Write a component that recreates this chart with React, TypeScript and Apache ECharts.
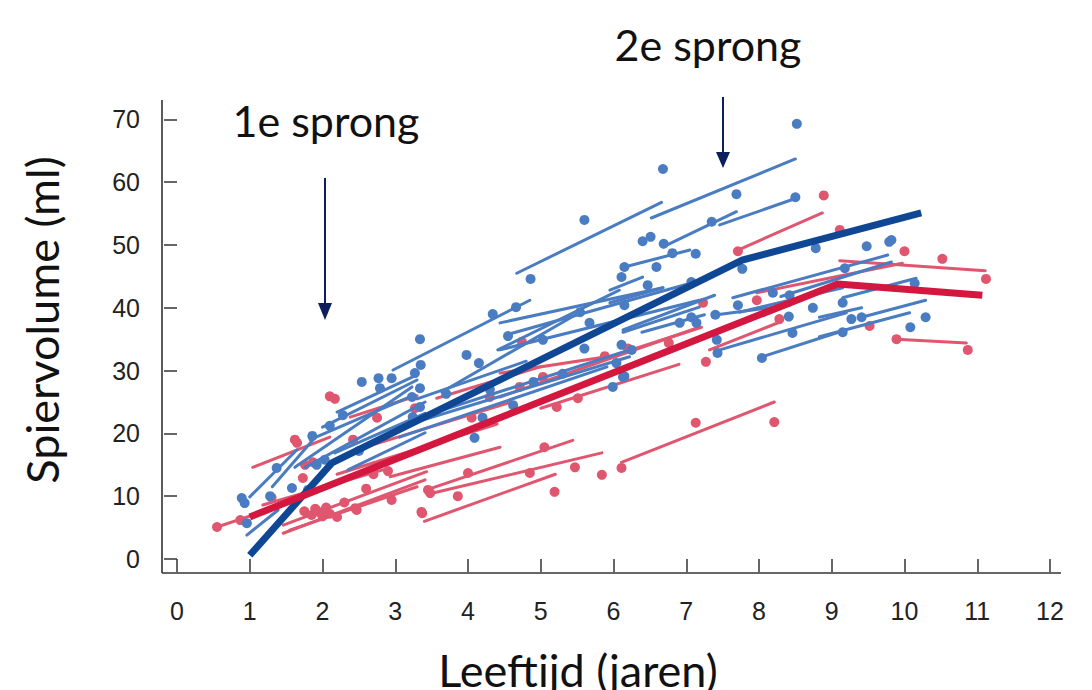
import React, { useEffect, useRef } from "react";
import * as echarts from "echarts";

// ---- axis ticks ----
const xTickValues = [0, 1, 2, 3, 4, 5, 6, 7, 8, 9, 10, 11, 12];
const yTickValues = [0, 10, 20, 30, 40, 50, 60, 70];

// ---- group mean curves (thick lines) ----
const blueMean: number[][] = [[1.0, 0.6], [2.13, 15.3], [7.77, 47.6], [10.23, 55.1]];
const redMean: number[][] = [[1.0, 6.7], [9.08, 43.8], [11.07, 42.0]];

// ---- individual fitted lines: [x1, y1, x2, y2] ----
const blueSegments: number[][] = [
  [6.52, 54.3, 8.5, 63.7],
  [4.67, 45.5, 6.66, 56.8],
  [7.46, 53.2, 8.5, 57.4],
  [6.68, 49.7, 7.69, 55.3],
  [6.15, 46.5, 7.05, 49.2],
  [5.95, 42.8, 6.4, 44.9],
  [5.95, 40.8, 6.68, 43.2],
  [2.97, 30.1, 4.85, 41.2],
  [4.41, 33.3, 6.08, 42.8],
  [4.44, 37.6, 6.68, 43.2],
  [4.53, 35.7, 7.12, 44.1],
  [4.44, 33.3, 7.18, 41.2],
  [6.13, 36.1, 7.18, 40.1],
  [6.13, 36.5, 7.39, 42.0],
  [6.39, 36.1, 7.25, 38.9],
  [7.42, 38.9, 8.42, 40.4],
  [7.64, 41.6, 9.77, 48.4],
  [7.73, 39.3, 9.15, 43.2],
  [8.3, 41.8, 9.82, 47.3],
  [7.46, 33.3, 9.2, 39.2],
  [8.04, 32.2, 9.2, 36.5],
  [9.15, 41.6, 10.16, 44.7],
  [8.83, 38.5, 9.41, 40.0],
  [9.41, 38.5, 10.29, 41.2],
  [8.83, 35.4, 10.07, 39.2],
  [3.64, 26.6, 5.54, 39.3],
  [2.0, 21.0, 3.3, 28.5],
  [2.2, 23.4, 3.24, 29.0],
  [1.83, 19.0, 3.2, 25.8],
  [1.62, 14.6, 3.23, 27.4],
  [1.31, 11.5, 1.9, 19.4],
  [1.0, 9.9, 1.65, 17.4],
  [0.96, 3.8, 1.39, 7.8],
  [3.06, 19.4, 5.91, 30.6],
  [3.06, 21.0, 6.22, 32.2],
  [3.65, 23.7, 6.22, 33.3],
  [1.76, 14.6, 3.41, 25.0],
  [2.17, 16.9, 3.41, 23.2],
  [2.35, 14.2, 3.41, 20.1],
  [3.3, 25.5, 4.8, 31.5],
];

const redSegments: number[][] = [
  [7.71, 49.2, 8.87, 55.1],
  [9.11, 47.5, 11.11, 45.9],
  [7.97, 42.4, 9.97, 47.1],
  [9.89, 35.0, 10.85, 34.4],
  [7.32, 33.3, 8.28, 37.7],
  [5.95, 32.2, 7.21, 36.9],
  [6.11, 15.4, 8.21, 25.0],
  [4.44, 29.6, 5.9, 32.2],
  [4.44, 25.8, 7.18, 36.9],
  [3.43, 11.0, 5.44, 18.9],
  [3.52, 10.5, 5.84, 16.9],
  [3.4, 6.0, 5.2, 13.5],
  [0.55, 5.1, 1.2, 7.6],
  [1.04, 14.6, 2.1, 19.4],
  [2.38, 22.6, 3.3, 26.0],
  [3.57, 25.6, 4.99, 30.6],
  [2.5, 17.5, 4.6, 25.0],
  [2.2, 13.5, 4.4, 21.5],
  [2.93, 13.1, 4.44, 17.8],
  [1.18, 8.6, 2.83, 14.2],
  [1.46, 5.4, 3.43, 13.9],
  [1.55, 4.6, 3.3, 11.5],
  [1.46, 4.1, 3.41, 12.6],
  [5.0, 24.0, 6.9, 31.0],
];

// ---- observations ----
const bluePoints: number[][] = [
  [8.52, 69.3], [6.68, 62.1], [5.6, 54.0], [7.69, 58.1], [8.5, 57.6], [7.35, 53.7],
  [6.4, 50.6], [6.51, 51.3], [6.69, 50.2], [6.81, 48.7], [7.13, 48.6], [6.15, 46.5],
  [6.59, 46.5], [6.11, 44.9], [6.47, 43.6], [6.15, 40.4], [7.07, 44.1], [6.91, 37.6],
  [7.07, 38.5], [7.14, 37.6], [7.4, 38.9], [7.77, 46.2], [8.78, 49.5], [8.74, 40.0],
  [8.41, 38.6], [8.46, 36.0], [8.04, 32.0], [7.43, 32.8], [7.42, 34.9], [7.71, 40.4],
  [8.19, 42.4], [8.42, 42.0], [9.15, 40.8], [9.15, 36.1], [9.48, 49.8], [9.79, 50.5],
  [9.82, 50.8], [9.18, 46.3], [10.14, 43.9], [9.27, 38.2], [9.41, 38.5], [10.29, 38.5],
  [10.08, 36.9], [4.86, 44.6], [4.34, 39.0], [4.66, 40.1], [3.34, 35.0], [3.98, 32.5],
  [4.15, 31.2], [3.35, 30.9], [5.54, 39.3], [5.67, 37.6], [4.55, 35.5], [3.27, 29.6],
  [3.34, 27.2], [3.23, 25.8], [3.34, 24.2], [3.24, 22.6], [4.09, 19.3], [4.62, 24.5],
  [5.99, 27.4], [6.15, 29.1], [6.04, 31.2], [5.03, 34.9], [2.54, 28.2], [2.77, 28.8],
  [2.95, 28.8], [2.79, 27.2], [2.1, 21.2], [2.28, 22.9], [1.86, 19.6], [1.37, 14.5],
  [0.89, 9.7], [0.93, 8.9], [0.96, 5.7], [1.28, 10.0], [1.58, 11.3], [1.8, 11.0],
  [1.92, 15.0], [2.03, 15.8], [4.3, 27.0], [3.7, 26.3], [4.9, 28.2], [5.3, 29.5],
  [5.6, 33.5], [6.25, 33.3], [4.2, 22.5], [6.11, 34.1], [6.13, 29.0], [2.5, 17.2],
];

const redPoints: number[][] = [
  [8.89, 57.9], [7.71, 49.0], [9.11, 52.4], [10.0, 49.0], [10.52, 47.8], [11.12, 44.6],
  [9.52, 37.1], [9.89, 35.0], [10.87, 33.3], [7.23, 40.8], [8.28, 38.2], [7.27, 31.4],
  [6.76, 34.4], [7.97, 41.2], [4.74, 34.6], [5.88, 32.3], [5.03, 29.0], [4.71, 27.4],
  [5.22, 24.2], [5.51, 25.6], [5.05, 17.8], [4.0, 13.7], [3.45, 11.0], [3.86, 10.0],
  [4.85, 13.7], [5.19, 10.7], [5.47, 14.6], [5.84, 13.4], [6.11, 14.5], [7.13, 21.7],
  [8.21, 21.8], [3.36, 7.5], [2.1, 25.9], [2.17, 25.5], [1.62, 19.0], [1.65, 18.5],
  [1.73, 12.9], [0.55, 5.1], [0.87, 6.2], [1.76, 15.0], [1.87, 15.4], [2.47, 7.8],
  [2.95, 9.4], [3.48, 10.5], [1.85, 7.0], [1.95, 7.5], [2.0, 6.8], [2.05, 8.2],
  [1.9, 8.0], [2.1, 7.2], [2.45, 8.1], [2.2, 6.7], [3.37, 7.3], [2.75, 22.5],
  [3.27, 24.0], [4.05, 22.5], [4.3, 25.8], [2.42, 19.0], [2.7, 13.5], [2.9, 14.0],
  [1.3, 9.8], [6.2, 33.5], [1.75, 7.6], [2.3, 9.0], [2.6, 11.2],
];

const BLUE = "#4a7cc2";
const RED = "#e0566f";
const BLUE_DARK = "#0f4794";
const RED_DARK = "#d3173f";
const NAVY = "#0b1f5e";
const FONT = "Lato, 'Open Sans', sans-serif";

function segData(segs: number[][]) {
  return segs.map((s) => ({ coords: [[s[0], s[1]], [s[2], s[3]]] }));
}

export default function App() {
  const ref = useRef<HTMLDivElement>(null);
  useEffect(() => {
    if (!ref.current) return;
    const chart = echarts.init(ref.current, undefined, { renderer: "svg" });
    const axisLabelStyle = {
      color: "#222",
      fontFamily: "'Liberation Sans', Arial, sans-serif",
      fontSize: 25,
    };
    chart.setOption({
      animation: false,
      backgroundColor: "#fff",
      grid: { left: 177, right: 42, top: 119.4, bottom: 131, containLabel: false },
      xAxis: {
        type: "value",
        min: 0,
        max: 12,
        interval: 1,
        offset: 14,
        axisLine: { show: false },
        axisTick: { show: true, length: 13, lineStyle: { color: "#333", width: 1.5 } },
        axisLabel: { ...axisLabelStyle, margin: 25, formatter: (v: number) => (xTickValues.includes(v) ? String(v) : "") },
        splitLine: { show: false },
      },
      yAxis: {
        type: "value",
        min: 0,
        max: 70,
        interval: 10,
        offset: 15,
        axisLine: { show: false },
        axisTick: { show: true, length: 13, lineStyle: { color: "#333", width: 1.5 } },
        axisLabel: { ...axisLabelStyle, margin: 22, formatter: (v: number) => (yTickValues.includes(v) ? String(v) : "") },
        splitLine: { show: false },
      },
      graphic: [
        { type: "line", shape: { x1: 162, y1: 100, x2: 162, y2: 573 }, style: { stroke: "#333", lineWidth: 1.6 } },
        { type: "line", shape: { x1: 162, y1: 573, x2: 1061, y2: 573 }, style: { stroke: "#333", lineWidth: 1.6 } },
        // arrow 1
        { type: "line", shape: { x1: 325, y1: 178, x2: 325, y2: 306 }, style: { stroke: NAVY, lineWidth: 2 } },
        { type: "polygon", shape: { points: [[318, 303], [332, 303], [325, 320]] }, style: { fill: NAVY } },
        // arrow 2
        { type: "line", shape: { x1: 723, y1: 97, x2: 723, y2: 155 }, style: { stroke: NAVY, lineWidth: 2 } },
        { type: "polygon", shape: { points: [[716, 152], [730, 152], [723, 168]] }, style: { fill: NAVY } },
        {
          type: "text", x: 326, y: 120,
          style: { text: "1e sprong", fill: "#111", font: `43px ${FONT}`, textAlign: "center", textVerticalAlign: "middle" },
        },
        {
          type: "text", x: 708, y: 44,
          style: { text: "2e sprong", fill: "#111", font: `43px ${FONT}`, textAlign: "center", textVerticalAlign: "middle" },
        },
        {
          type: "text", x: 42, y: 320, rotation: Math.PI / 2,
          style: { text: "Spiervolume (ml)", fill: "#111", font: `45px ${FONT}`, textAlign: "center", textVerticalAlign: "middle" },
        },
        {
          type: "text", x: 578, y: 670,
          style: { text: "Leeftijd (jaren)", fill: "#111", font: `45px ${FONT}`, textAlign: "center", textVerticalAlign: "middle" },
        },
      ],
      series: [
        {
          type: "lines", coordinateSystem: "cartesian2d", silent: true, z: 2,
          lineStyle: { color: RED, width: 3, opacity: 1, cap: "round" },
          data: segData(redSegments),
        },
        {
          type: "scatter", silent: true, z: 3, symbolSize: 10,
          itemStyle: { color: RED, opacity: 1 },
          data: redPoints,
        },
        {
          type: "lines", coordinateSystem: "cartesian2d", silent: true, z: 4,
          lineStyle: { color: BLUE, width: 3, opacity: 1, cap: "round" },
          data: segData(blueSegments),
        },
        {
          type: "scatter", silent: true, z: 5, symbolSize: 10,
          itemStyle: { color: BLUE, opacity: 1 },
          data: bluePoints,
        },
        {
          type: "line", silent: true, z: 6, showSymbol: false,
          lineStyle: { color: BLUE_DARK, width: 7, cap: "butt", join: "miter" },
          data: blueMean,
        },
        {
          type: "line", silent: true, z: 7, showSymbol: false,
          lineStyle: { color: RED_DARK, width: 7, cap: "butt", join: "round" },
          data: redMean,
        },
      ],
    });
    return () => chart.dispose();
  }, []);
  return <div ref={ref} style={{ position: "absolute", left: 0, top: 0, width: 1092, height: 690 }} />;
}
